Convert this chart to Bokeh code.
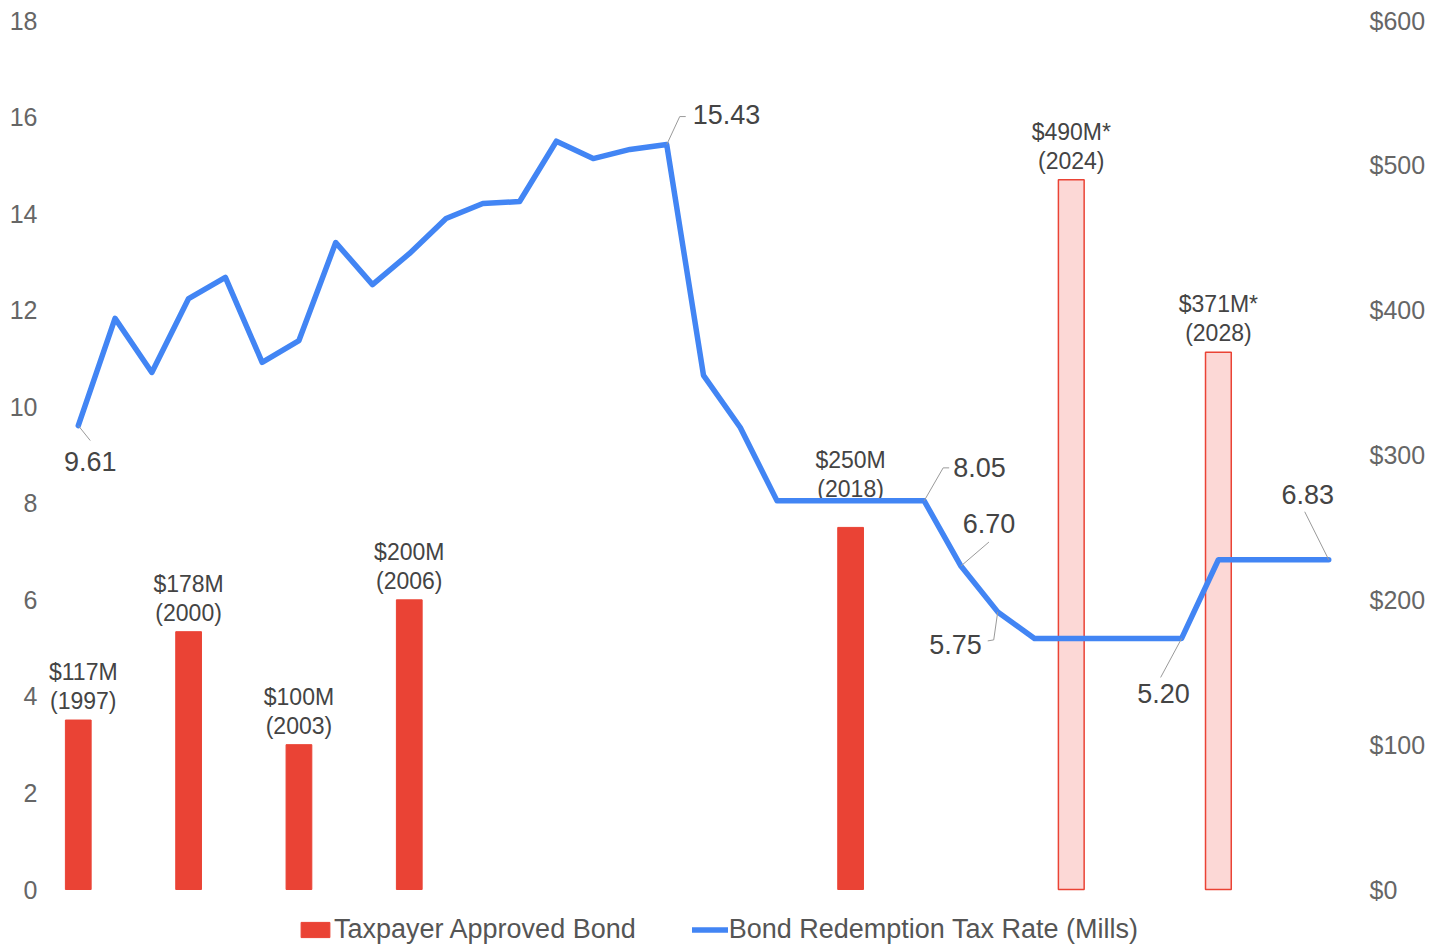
from bokeh.plotting import figure
from bokeh.models import Range1d, LinearAxis, FixedTicker, Legend, LegendItem, ColumnDataSource
from bokeh.embed import file_html
from bokeh.resources import INLINE
from bokeh.core.properties import value

# ---------------- data ----------------
years = list(range(1997, 2032))
tax_rate = [9.61, 11.83, 10.71, 12.24, 12.68, 10.92, 11.37, 13.40, 12.53, 13.17,
            13.90, 14.21, 14.25, 15.50, 15.14, 15.33, 15.43, 10.65, 9.57, 8.05,
            8.05, 8.05, 8.05, 8.05, 6.70, 5.75, 5.20, 5.20, 5.20, 5.20, 5.20,
            6.83, 6.83, 6.83, 6.83]
labeled_rate_years = [1997, 2013, 2020, 2021, 2022, 2027, 2031]

bond_years = [1997, 2000, 2003, 2006, 2018, 2024, 2028]
bond_amounts = [117, 178, 100, 200, 250, 490, 371]      # $M
bond_projected = [False, False, False, False, False, True, True]

left_ticks = [0, 2, 4, 6, 8, 10, 12, 14, 16, 18]
right_ticks = [0, 100, 200, 300, 400, 500, 600]
right_tick_labels = ["$0", "$100", "$200", "$300", "$400", "$500", "$600"]

bar_series_name = "Taxpayer Approved Bond"
line_series_name = "Bond Redemption Tax Rate (Mills)"

# ---------------- layout / style ----------------
FONT = "Liberation Sans"
X0, X1 = 1996.0, 2032.0
Y_TOP = 18
USD_TOP = 600
FRAME_W = 1324
DATA_H = 869            # pixels from 0 to 18
LEGEND_H = 56           # extra room below zero for the legend
PX_X = FRAME_W / (X1 - X0)
PX_Y = DATA_H / Y_TOP
Y_MIN = -LEGEND_H / PX_Y
USD_MIN = Y_MIN * USD_TOP / Y_TOP

RED = "#EA4335"
PINK = "#FCD8D6"
BLUE = "#4285F4"

# label placement in screen pixels (dy positive = downward)
rate_label_layout = {
    1997: dict(tdx=12, tdy=36, align="center", leader=[(12, 15)]),
    2013: dict(tdx=26, tdy=-30, align="left", leader=[(13, -28), (19, -28)]),
    2020: dict(tdx=29, tdy=-33, align="left", leader=[(19, -33), (25, -33)]),
    2021: dict(tdx=28, tdy=-43, align="center", leader=[(28, -24)]),
    2022: dict(tdx=-16, tdy=33, align="right", leader=[(-4, 28), (-10, 29)]),
    2027: dict(tdx=-18, tdy=55, align="center", leader=[(-21, 39)]),
    2031: dict(tdx=-21, tdy=-65, align="center", leader=[(-24, -48)]),
}
bar_label_lift = {2018: 38}
bar_label_shift = {1997: 5}

p = figure(frame_width=FRAME_W, frame_height=DATA_H + LEGEND_H,
           x_range=Range1d(X0, X1), y_range=Range1d(Y_MIN, Y_TOP),
           output_backend="svg", toolbar_location=None,
           x_axis_location=None, y_axis_location="left",
           min_border_left=41, min_border_right=75, min_border_top=20, min_border_bottom=0,
           background_fill_color="white", border_fill_color="white")
p.outline_line_color = None
p.grid.visible = False
p.extra_y_ranges = {"usd": Range1d(USD_MIN, USD_TOP)}

# left axis
ya = p.yaxis[0]
ya.ticker = FixedTicker(ticks=left_ticks)
ya.axis_line_color = None
ya.major_tick_line_color = None
ya.minor_tick_line_color = None
ya.major_tick_out = 0
ya.major_tick_in = 0
ya.major_label_text_font = FONT
ya.major_label_text_font_size = "25px"
ya.major_label_text_color = "#666666"
ya.major_label_standoff = 4

# right axis
ra = LinearAxis(y_range_name="usd", ticker=FixedTicker(ticks=right_ticks),
                major_label_overrides={t: l for t, l in zip(right_ticks, right_tick_labels)})
ra.axis_line_color = None
ra.major_tick_line_color = None
ra.minor_tick_line_color = None
ra.major_tick_out = 0
ra.major_tick_in = 0
ra.major_label_text_font = FONT
ra.major_label_text_font_size = "25px"
ra.major_label_text_color = "#666666"
ra.major_label_standoff = 4
p.add_layout(ra, "right")

# bars
act = ColumnDataSource(dict(
    x=[y for y, pr in zip(bond_years, bond_projected) if not pr],
    top=[a for a, pr in zip(bond_amounts, bond_projected) if not pr]))
proj = ColumnDataSource(dict(
    x=[y for y, pr in zip(bond_years, bond_projected) if pr],
    top=[a for a, pr in zip(bond_amounts, bond_projected) if pr]))
bar_r = p.vbar(x="x", top="top", bottom=0, width=0.7, source=act, y_range_name="usd",
               fill_color=RED, line_color=RED, line_width=1)
p.vbar(x="x", top="top", bottom=0, width=0.7, source=proj, y_range_name="usd",
       fill_color=PINK, line_color=RED, line_width=1.5)

# bar labels
amt_txt = [f"${a}M" + ("*" if pr else "") for a, pr in zip(bond_amounts, bond_projected)]
yr_txt = [f"({y})" for y in bond_years]
lift = [bar_label_lift.get(y, 19) for y in bond_years]
shift = [bar_label_shift.get(y, 0) for y in bond_years]
bl = ColumnDataSource(dict(x=bond_years, y=bond_amounts, amt=amt_txt, yr=yr_txt, dx=shift,
                           off2=[-l for l in lift], off1=[-l - 29 for l in lift]))
p.text(x="x", y="y", text="yr", x_offset="dx", y_offset="off2", source=bl, y_range_name="usd",
       text_align="center", text_baseline="middle", text_font=value(FONT),
       text_font_size="23px", text_color="#444444")
p.text(x="x", y="y", text="amt", x_offset="dx", y_offset="off1", source=bl, y_range_name="usd",
       text_align="center", text_baseline="middle", text_font=value(FONT),
       text_font_size="23px", text_color="#444444")

# line
line_r = p.line(years, tax_rate, line_color=BLUE, line_width=5.5,
                line_join="round", line_cap="round")

# rate labels with leader lines
lx, ly = [], []
for yr in labeled_rate_years:
    v = tax_rate[years.index(yr)]
    lay = rate_label_layout[yr]
    xs = [yr] + [yr + dx / PX_X for dx, dy in lay["leader"]]
    ys = [v] + [v - dy / PX_Y for dx, dy in lay["leader"]]
    lx.append(xs)
    ly.append(ys)
    p.text(x=[yr], y=[v], text=[f"{v:.2f}"], x_offset=lay["tdx"], y_offset=lay["tdy"],
           text_align=lay["align"], text_baseline="middle", text_font=value(FONT),
           text_font_size="27px", text_color="#444444")
p.multi_line(xs=lx, ys=ly, line_color="#9a9a9a", line_width=1)

legend = Legend(items=[LegendItem(label=bar_series_name, renderers=[bar_r]),
                       LegendItem(label=line_series_name, renderers=[line_r])],
                location=(256, 0), orientation="horizontal", padding=0, margin=0,
                spacing=56, glyph_width=36, glyph_height=19, label_standoff=1,
                label_text_font=FONT, label_text_font_size="27px",
                label_text_color="#555555", border_line_color=None,
                background_fill_alpha=0)
p.add_layout(legend)

open("out.html", "w").write(file_html(p, INLINE))
